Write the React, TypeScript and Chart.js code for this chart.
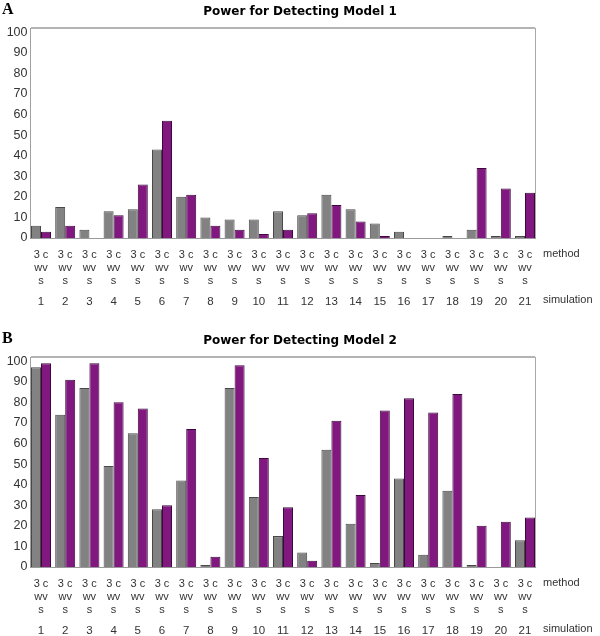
import React, { useEffect, useRef } from 'react';
import { Chart, registerables } from 'chart.js';

Chart.register(...registerables);

// ---- data ----
const simulations = ['1', '2', '3', '4', '5', '6', '7', '8', '9', '10', '11', '12', '13', '14', '15', '16', '17', '18', '19', '20', '21'];
const methodLabel = ['3 c', 'wv', 's'];
const yTicks = [0, 10, 20, 30, 40, 50, 60, 70, 80, 90, 100];

const model1Gray = [6, 15, 4, 13, 14, 43, 20, 10, 9, 9, 13, 11, 21, 14, 7, 3, 0, 1, 4, 1, 1];
const model1Purple = [3, 6, 0, 11, 26, 57, 21, 6, 4, 2, 4, 12, 16, 8, 1, 0, 0, 0, 34, 24, 22];

const model2Gray = [97, 74, 87, 49, 65, 28, 42, 1, 87, 34, 15, 7, 57, 21, 2, 43, 6, 37, 1, 0, 13];
const model2Purple = [99, 91, 99, 80, 77, 30, 67, 5, 98, 53, 29, 3, 71, 35, 76, 82, 75, 84, 20, 22, 24];

const titles = ['Power for Detecting Model 1', 'Power for Detecting Model 2'];
const panelLetters = ['A', 'B'];

// ---- styles ----
const GRAY = '#828282';
const GRAY_BORDER = '#484848';
const PURPLE = '#80187f';
const PURPLE_BORDER = '#3c083c';
const TEXT = '#333333';
const SANS = '"Liberation Sans", Arial, sans-serif';

const CANVAS_W = 600;
const CANVAS_H = 329;
const GROUP_FILL = 0.8264; // fraction of each group occupied by the bar pair
const X_MIN = 1 - GROUP_FILL / 2;
const X_MAX = simulations.length + GROUP_FILL / 2;

function integerTicks(scale: any) {
  scale.ticks = scale.ticks.filter((t: any) => Number.isInteger(t.value));
}

function makeConfig(idx: number, gray: number[], purple: number[]): any {
  const letter = panelLetters[idx];
  const decorPlugin = {
    id: 'decor' + idx,
    afterDraw(chart: any) {
      const { ctx, chartArea } = chart;
      const { left, right, top, bottom } = chartArea;
      ctx.save();
      // frame
      ctx.strokeStyle = '#b4b4b4';
      ctx.lineWidth = 2;
      ctx.beginPath();
      ctx.moveTo(left, top);
      ctx.lineTo(right, top);
      ctx.stroke();
      ctx.strokeStyle = '#a8a8a8';
      ctx.lineWidth = 1;
      ctx.beginPath();
      ctx.moveTo(right + 0.5, top);
      ctx.lineTo(right + 0.5, bottom);
      ctx.stroke();
      ctx.strokeStyle = '#a0a0a0';
      ctx.beginPath();
      ctx.moveTo(left - 0.5, top);
      ctx.lineTo(left - 0.5, bottom + 1);
      ctx.stroke();
      ctx.strokeStyle = '#9a9a9a';
      ctx.beginPath();
      ctx.moveTo(left - 1, bottom + 0.5);
      ctx.lineTo(right + 1, bottom + 0.5);
      ctx.stroke();
      // panel letter
      ctx.fillStyle = '#000';
      ctx.font = 'bold 16px "Liberation Serif", "Times New Roman", serif';
      ctx.textAlign = 'left';
      ctx.textBaseline = 'alphabetic';
      ctx.fillText(letter, 2, 14);
      // title
      ctx.font = 'bold 12px "DejaVu Sans", Verdana, sans-serif';
      ctx.textAlign = 'center';
      ctx.fillText(titles[idx], 300, 15);
      // axis row names
      ctx.textAlign = 'left';
      ctx.fillStyle = TEXT;
      ctx.font = '11px ' + SANS;
      ctx.fillText('method', right + 8, bottom + 19);
      ctx.fillText('simulation', right + 8, bottom + 65);
      ctx.restore();
    },
  };

  return {
    type: 'bar',
    data: {
      datasets: [
        {
          label: '3',
          data: gray.map((v, i) => ({ x: i + 1, y: v })),
          backgroundColor: GRAY,
          borderColor: GRAY_BORDER,
          borderWidth: 1,
          categoryPercentage: GROUP_FILL,
          barPercentage: 1,
        },
        {
          label: 'cwvs',
          data: purple.map((v, i) => ({ x: i + 1, y: v })),
          backgroundColor: PURPLE,
          borderColor: PURPLE_BORDER,
          borderWidth: 1,
          categoryPercentage: GROUP_FILL,
          barPercentage: 1,
        },
      ],
    },
    options: {
      animation: false,
      responsive: false,
      layout: { padding: { left: 0, right: 65, top: 28, bottom: 17 } },
      plugins: {
        legend: { display: false },
        tooltip: { enabled: false },
        title: { display: false },
      },
      scales: {
        x: {
          type: 'linear',
          position: 'bottom',
          weight: 1,
          min: X_MIN,
          max: X_MAX,
          offset: false,
          grid: { display: false, drawTicks: false },
          border: { display: false },
          ticks: {
            stepSize: 1,
            includeBounds: false,
            autoSkip: false,
            maxRotation: 0,
            padding: 10.5,
            color: TEXT,
            font: { family: SANS, size: 11, lineHeight: 13 / 11 },
            callback: () => methodLabel,
          },
          afterBuildTicks: integerTicks,
          afterFit: (s: any) => { s.height = 50; },
        },
        x2: {
          type: 'linear',
          position: 'bottom',
          weight: 2,
          min: X_MIN,
          max: X_MAX,
          offset: false,
          grid: { display: false, drawTicks: false },
          border: { display: false },
          ticks: {
            stepSize: 1,
            includeBounds: false,
            autoSkip: false,
            maxRotation: 0,
            padding: 7,
            color: TEXT,
            font: { family: SANS, size: 11.5 },
            callback: (v: any) => simulations[Number(v) - 1],
          },
          afterBuildTicks: integerTicks,
          afterFit: (s: any) => { s.height = 24; },
        },
        y: {
          type: 'linear',
          min: 0,
          max: 102,
          grid: { display: false, drawTicks: false },
          border: { display: false },
          ticks: {
            stepSize: 10,
            includeBounds: false,
            padding: 3.5,
            color: TEXT,
            font: { family: SANS, size: 12.5 },
          },
          afterBuildTicks: (s: any) => {
            s.ticks = yTicks.map((v) => ({ value: v }));
          },
          afterFit: (s: any) => { s.width = 31; },
        },
      },
    },
    plugins: [decorPlugin],
  };
}

function Panel({ idx, gray, purple, top }: { idx: number; gray: number[]; purple: number[]; top: number }) {
  const ref = useRef<HTMLCanvasElement | null>(null);
  useEffect(() => {
    if (!ref.current) return;
    const chart = new Chart(ref.current, makeConfig(idx, gray, purple));
    return () => chart.destroy();
  }, [idx, gray, purple]);
  return (
    <div style={{ position: 'absolute', left: 0, top, width: CANVAS_W, height: CANVAS_H }}>
      <canvas ref={ref} width={CANVAS_W} height={CANVAS_H} style={{ display: 'block', width: CANVAS_W, height: CANVAS_H }} />
    </div>
  );
}

export default function App() {
  return (
    <div style={{ position: 'absolute', left: 0, top: 0, width: 600, height: 636, overflow: 'hidden', background: '#fff' }}>
      <Panel idx={0} gray={model1Gray} purple={model1Purple} top={0} />
      <Panel idx={1} gray={model2Gray} purple={model2Purple} top={329} />
    </div>
  );
}
